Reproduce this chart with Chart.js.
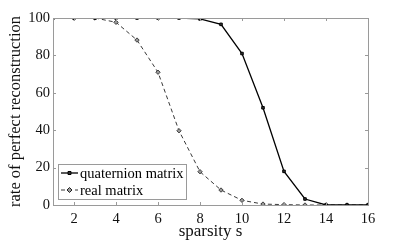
<!DOCTYPE html>
<html>
<head>
<meta charset="utf-8">
<script src="https://cdn.jsdelivr.net/npm/chart.js@4"></script>
<style>
  html, body { margin: 0; padding: 0; background: #fff; }
  .grafico-container { position: relative; width: 407px; height: 246px; }
</style>
</head>
<body>
<div class="grafico-container"><canvas id="grafico"></canvas></div>
<script>
// dados
const sparsity = [1, 2, 3, 4, 5, 6, 7, 8, 9, 10, 11, 12, 13, 14, 15, 16];
const quaternionRate = [100, 100, 100, 100, 100, 100, 100, 99.5, 96.6, 81, 52, 18, 3.2, 0, 0, 0];
const realRate = [100, 100, 100, 97.7, 88.2, 71, 39.7, 17.8, 8, 2.5, 0.5, 0.2, 0, 0, 0, 0];
const xTicks = [2, 4, 6, 8, 10, 12, 14, 16];
const yTicks = [0, 20, 40, 60, 80, 100];
const legendLabels = ['quaternion matrix', 'real matrix'];

const FONT = '"Liberation Serif", "DejaVu Serif", serif';

// ticks para dentro nos quatro lados + caixa cinza
const moldura = {
    id: 'moldura',
    afterDraw(chart) {
        const { ctx, chartArea: a, scales } = chart;
        ctx.save();
        ctx.strokeStyle = '#9a9a9a';
        ctx.lineWidth = 1;
        ctx.strokeRect(a.left + 0.5, a.top + 0.5, a.right - a.left, a.bottom - a.top);
        ctx.beginPath();
        xTicks.forEach(v => {
            const x = Math.round(scales.x.getPixelForValue(v)) + 0.5;
            ctx.moveTo(x, a.bottom); ctx.lineTo(x, a.bottom - 3);
            ctx.moveTo(x, a.top); ctx.lineTo(x, a.top + 3);
        });
        yTicks.forEach(v => {
            const y = Math.round(scales.y.getPixelForValue(v)) + 0.5;
            ctx.moveTo(a.left, y); ctx.lineTo(a.left + 3, y);
            ctx.moveTo(a.right, y); ctx.lineTo(a.right - 3, y);
        });
        ctx.stroke();
        ctx.restore();
    }
};

// legenda dentro da área do gráfico (canto inferior esquerdo)
const legenda = {
    id: 'legenda',
    afterDraw(chart) {
        const { ctx, chartArea: a } = chart;
        const x0 = a.left + 5, y0 = a.bottom - 41, w = 128, h = 35;
        ctx.save();
        ctx.fillStyle = '#fff';
        ctx.fillRect(x0, y0, w, h);
        ctx.strokeStyle = '#9a9a9a';
        ctx.lineWidth = 1;
        ctx.strokeRect(x0 + 0.5, y0 + 0.5, w, h);
        ctx.font = '14.5px ' + FONT;
        ctx.textBaseline = 'middle';
        chart.data.datasets.forEach((ds, i) => {
            const yy = y0 + 9 + i * 17;
            ctx.strokeStyle = ds.borderColor;
            ctx.lineWidth = ds.borderWidth;
            ctx.setLineDash(ds.borderDash || []);
            ctx.beginPath();
            ctx.moveTo(x0 + 3, yy); ctx.lineTo(x0 + 20, yy);
            ctx.stroke();
            ctx.setLineDash([]);
            ctx.fillStyle = ds.pointBackgroundColor;
            ctx.strokeStyle = ds.pointBorderColor;
            ctx.lineWidth = 1;
            const cx = x0 + 11.5;
            ctx.beginPath();
            if (ds.pointStyle === 'rect') {
                ctx.rect(cx - 1.5, yy - 1.5, 3, 3);
            } else {
                ctx.moveTo(cx, yy - 2.5); ctx.lineTo(cx + 2.5, yy); ctx.lineTo(cx, yy + 2.5); ctx.lineTo(cx - 2.5, yy); ctx.closePath();
            }
            ctx.fill(); ctx.stroke();
            ctx.fillStyle = '#000';
            ctx.fillText(legendLabels[i], x0 + 22, yy + 1);
        });
        ctx.restore();
    }
};

const ctx = document.getElementById('grafico').getContext('2d');
new Chart(ctx, {
    type: 'line',
    data: {
        datasets: [
            {
                label: legendLabels[0],
                data: sparsity.map((s, i) => ({ x: s, y: quaternionRate[i] })),
                borderColor: '#000',
                borderWidth: 1.3,
                pointStyle: 'rect',
                pointRadius: 1.8,
                pointBackgroundColor: '#333',
                pointBorderColor: '#000',
                pointBorderWidth: 1
            },
            {
                label: legendLabels[1],
                data: sparsity.map((s, i) => ({ x: s, y: realRate[i] })),
                borderColor: '#222',
                borderWidth: 0.9,
                borderDash: [4, 3],
                pointStyle: 'rectRot',
                pointRadius: 2.2,
                pointBackgroundColor: '#999',
                pointBorderColor: '#222',
                pointBorderWidth: 0.8
            }
        ]
    },
    options: {
        responsive: true,
        maintainAspectRatio: false,
        animation: false,
        layout: { padding: { left: 2, top: 18, right: 39, bottom: 0 } },
        scales: {
            x: {
                type: 'linear',
                min: 1,
                max: 16,
                afterBuildTicks: s => { s.ticks = xTicks.map(v => ({ value: v })); },
                afterFit: s => { s.height = 41; },
                grid: { display: false, drawTicks: false },
                border: { display: false },
                ticks: { color: '#111', font: { family: FONT, size: 14.5 }, padding: 5, maxRotation: 0 },
                title: { display: true, text: 'sparsity s', color: '#111', font: { family: FONT, size: 17 }, padding: { top: 0 } }
            },
            y: {
                min: 0,
                max: 100,
                afterBuildTicks: s => { s.ticks = yTicks.map(v => ({ value: v })); },
                afterFit: s => { s.width = 51; },
                grid: { display: false, drawTicks: false },
                border: { display: false },
                ticks: { color: '#111', font: { family: FONT, size: 14.5 }, padding: 3 },
                title: { display: true, text: 'rate of perfect reconstruction', color: '#111', font: { family: FONT, size: 16.5 }, padding: { bottom: 0 } }
            }
        },
        plugins: {
            legend: { display: false },
            tooltip: { enabled: false }
        }
    },
    plugins: [moldura, legenda]
});
</script>
</body>
</html>
